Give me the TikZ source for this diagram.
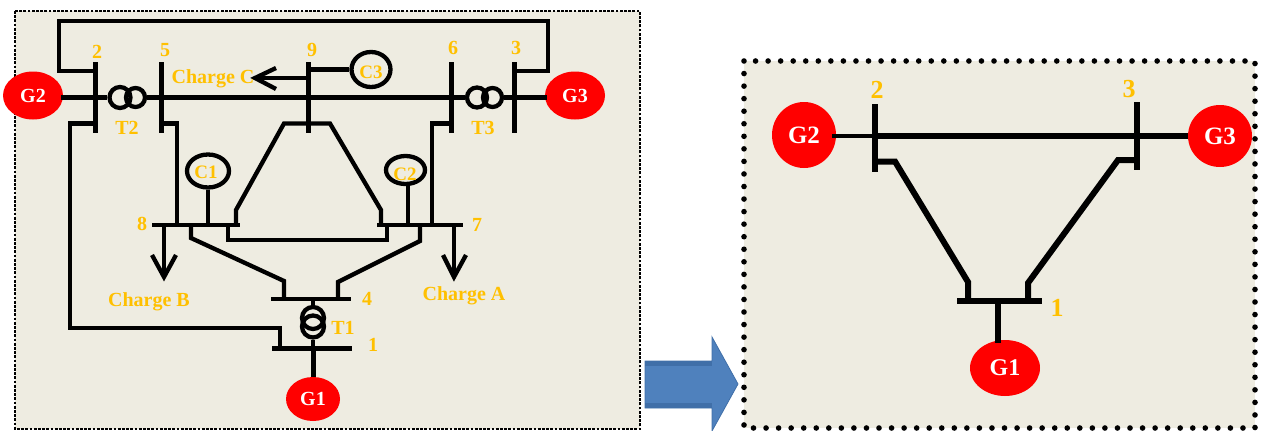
\documentclass[tikz,border=0pt]{standalone}
\usepackage{fontspec}
\setmainfont{Liberation Serif}
\usetikzlibrary{shapes.geometric}
\definecolor{panelbg}{HTML}{EEECE1}
\definecolor{lab}{HTML}{FFC000}
\definecolor{gen}{HTML}{FF0000}
\definecolor{arrowfill}{HTML}{4F81BD}
\definecolor{arrowedge}{HTML}{406FA8}
\newcommand{\fs}[1]{\fontsize{#1}{#1}\selectfont\bfseries}
\tikzset{
  wire/.style={line width=4.3pt,black,line cap=butt,line join=miter},
  wirethick/.style={line width=6pt,black,line cap=butt,line join=miter},
  barb/.style={line width=4.3pt,black,line cap=butt,line join=miter},
  busv/.style={fill=black,draw=none,inner sep=0pt,minimum width=5pt},
  bush/.style={fill=black,draw=none,inner sep=0pt,minimum height=4.5pt},
  genset/.style={ellipse,fill=gen,draw=none,inner sep=0pt,text=white},
  capring/.style={ellipse,draw=black,line width=4.3pt,inner sep=0pt},
  coil/.style={circle,draw=black,line width=4.3pt,inner sep=0pt},
  tag/.style={text=lab,inner sep=0pt},
}
\begin{document}
\begin{tikzpicture}[x=1pt,y=-1pt]
\useasboundingbox (0,0) rectangle (1261,431);
% panels
\fill[panelbg] (15,11) rectangle (640,429);
\draw[black,line width=2.8pt,dash pattern=on 2.8pt off 1.4pt] (15,11) rectangle (640,429);
\fill[panelbg] (744,61) rectangle (1255,428);
\draw[black,line width=5.6pt,line cap=round,dash pattern=on 0pt off 12.55pt] (744,61) rectangle (1255,428);

% block arrow
\draw[arrowedge,line width=0.8pt,fill=arrowfill] (645,361) -- (712,361) -- (712,337) -- (738,384) -- (712,431) -- (712,408) -- (645,408) -- cycle;
\fill[arrowedge] (645,361) rectangle (712,366);
\fill[arrowedge] (645,403) rectangle (712,408);

% LEFT: generators
\node[genset,minimum width=60pt,minimum height=48pt,font=\fs{20}] (G2) at (33,95.5) {G2};
\node[genset,minimum width=60pt,minimum height=48pt,font=\fs{20}] (G3) at (575,95.5) {G3};
\node[genset,minimum width=54pt,minimum height=44pt,font=\fs{20}] (G1) at (313,399) {G1};

% LEFT: buses
\node[busv,minimum height=71pt] (b2) at (95,97.5) {};
\node[busv,minimum height=71pt] (b5) at (161,97.5) {};
\node[busv,minimum height=71pt] (b9) at (308,97.5) {};
\node[busv,minimum height=71pt] (b6) at (451,97.5) {};
\node[busv,minimum height=71pt] (b3) at (514,97.5) {};
\node[bush,minimum width=88pt] (b8) at (196,225) {};
\node[bush,minimum width=86pt] (b7) at (420,225) {};
\node[bush,minimum width=80pt] (b4) at (311,299) {};
\node[bush,minimum width=80pt,minimum height=5pt] (b1) at (312,348) {};

% LEFT: transformers
\node[coil,minimum size=21pt] (T2a) at (120,97.5) {};
\node[coil,minimum size=19pt] (T2b) at (135.5,97.5) {};
\node[coil,minimum size=20pt] (T3a) at (477,97.5) {};
\node[coil,minimum size=19pt] (T3b) at (492.5,97.5) {};
\node[coil,minimum size=22pt] (T1a) at (313,318) {};
\node[coil,minimum size=22pt] (T1b) at (313,326.5) {};

% LEFT: capacitors
\node[capring,minimum width=42pt,minimum height=33pt] (C1) at (208,171) {};
\node[capring,minimum width=39pt,minimum height=28pt] (C2) at (405.5,170) {};
\node[capring,minimum width=39pt,minimum height=35pt] (C3) at (371,69.5) {};

% LEFT: line ends
\coordinate (p2a) at (95,71);
\coordinate (p2b) at (59,71);
\coordinate (p2c) at (59,21);
\coordinate (p3c) at (548,21);
\coordinate (p3b) at (548,71);
\coordinate (p3a) at (514,71);
\coordinate (q2a) at (95,123.5);
\coordinate (q2b) at (70,123.5);
\coordinate (q2c) at (70,328);
\coordinate (q2d) at (280,328);
\coordinate (q2e) at (280,348);
\coordinate (q5a) at (161,123.5);
\coordinate (q5b) at (177,123.5);
\coordinate (q5c) at (177,225);
\coordinate (q6a) at (451,123.5);
\coordinate (q6b) at (432,123.5);
\coordinate (q6c) at (432,225);
\coordinate (q9a) at (236,225);
\coordinate (q9b) at (236,210);
\coordinate (q9c) at (284,123.5);
\coordinate (q9d) at (330,123.5);
\coordinate (q9e) at (381,210);
\coordinate (q9f) at (381,225);
\coordinate (r8a) at (191,225);
\coordinate (r8b) at (191,238);
\coordinate (r8c) at (284,281);
\coordinate (r8d) at (284,299);
\coordinate (r7a) at (420,225);
\coordinate (r7b) at (420,241);
\coordinate (r7c) at (338,282);
\coordinate (r7d) at (338,299);
\coordinate (s8a) at (228,225);
\coordinate (s8b) at (228,240);
\coordinate (s8c) at (387,240);
\coordinate (s8d) at (387,225);
\coordinate (c1b) at (208,225);
\coordinate (c2b) at (408,225);
\coordinate (c3b) at (308,69.5);
\coordinate (t1t) at (313,299);
\coordinate (t1m) at (313,348);
\coordinate (ca0) at (308,78);
\coordinate (ca1) at (255,78);
\coordinate (ca2) at (276,68);
\coordinate (ca3) at (276,89);
\coordinate (ba0) at (164,225);
\coordinate (ba1) at (164,277);
\coordinate (ba2) at (152,255);
\coordinate (ba3) at (176,255);
\coordinate (aa0) at (454,225);
\coordinate (aa1) at (454,277);
\coordinate (aa2) at (443,255);
\coordinate (aa3) at (466,255);
\coordinate (g2e) at (61,97.5);
\coordinate (g3w) at (547,97.5);

% LEFT: wires
\draw[wire] (p2a) -- (p2b) -- (p2c) -- (p3c) -- (p3b) -- (p3a);
\draw[wire] (g2e) -- (T2a);
\draw[wire] (T2b) -- (T3a);
\draw[wire] (T3b) -- (g3w);
\draw[wire] (q2a) -- (q2b) -- (q2c) -- (q2d) -- (q2e);
\draw[wire] (q5a) -- (q5b) -- (q5c);
\draw[wire] (q6a) -- (q6b) -- (q6c);
\draw[wire] (q9a) -- (q9b) -- (q9c) -- (q9d) -- (q9e) -- (q9f);
\draw[wire] (r8a) -- (r8b) -- (r8c) -- (r8d);
\draw[wire] (r7a) -- (r7b) -- (r7c) -- (r7d);
\draw[wire] (s8a) -- (s8b) -- (s8c) -- (s8d);
\draw[wire] (C1) -- (c1b);
\draw[wire] (C2.south -| c2b) -- (c2b);
\draw[wire] (C3) -- (c3b);
\draw[wire] (t1t) -- (T1a);
\draw[wire] (T1b) -- (t1m);
\draw[wire,line width=5pt] (t1m) -- (G1);
\draw[wire] (ca0) -- (ca1);
\draw[barb] (ca2) -- (ca1) -- (ca3);
\draw[wire] (ba0) -- (ba1);
\draw[barb] (ba2) -- (ba1) -- (ba3);
\draw[wire] (aa0) -- (aa1);
\draw[barb] (aa2) -- (aa1) -- (aa3);

% LEFT: labels
\node[tag,font=\fs{20}] (l2) at (97,52) {2};
\node[tag,font=\fs{20}] (l5) at (165,50) {5};
\node[tag,font=\fs{20}] (l9) at (312,50) {9};
\node[tag,font=\fs{20}] (l6) at (453,48) {6};
\node[tag,font=\fs{20}] (l3) at (516,48) {3};
\node[tag,font=\fs{20}] (l8) at (142,224) {8};
\node[tag,font=\fs{20}] (l7) at (477,225) {7};
\node[tag,font=\fs{20}] (l4) at (367,299) {4};
\node[tag,font=\fs{20}] (l1) at (373,345) {1};
\node[tag,font=\fs{20}] (lT2) at (127,128) {T2};
\node[tag,font=\fs{20}] (lT3) at (483,128) {T3};
\node[tag,font=\fs{20}] (lT1) at (343,328) {T1};
\node[tag,font=\fs{19}] (lC1) at (206,172) {C1};
\node[tag,font=\fs{19}] (lC2) at (405,174) {C2};
\node[tag,font=\fs{19}] (lC3) at (371,72) {C3};
\node[tag,font=\fs{20}] (lcc) at (213,79) {Charge C};
\node[tag,font=\fs{20}] (lcb) at (149,302) {Charge B};
\node[tag,font=\fs{20}] (lca) at (464,296) {Charge A};

% RIGHT: generators
\node[genset,minimum width=64pt,minimum height=66pt,font=\fs{25}] (RG2) at (804,135) {G2};
\node[genset,minimum width=64pt,minimum height=62pt,font=\fs{25}] (RG3) at (1220,136) {G3};
\node[genset,minimum width=70pt,minimum height=56pt,font=\fs{24}] (RG1) at (1005,368) {G1};

% RIGHT: buses
\node[busv,minimum width=6pt,minimum height=68pt] (Rb2) at (875,138) {};
\node[busv,minimum width=6pt,minimum height=68pt] (Rb3) at (1137,136) {};
\node[bush,minimum width=85pt,minimum height=6pt] (Rb1) at (999.5,301) {};

% RIGHT: line ends
\coordinate (Rm2) at (875,136);
\coordinate (Rm3) at (1137,136);
\coordinate (Rg2) at (832,136);
\coordinate (Rs2a) at (875,161.5);
\coordinate (Rs2b) at (895,161.5);
\coordinate (Rs2c) at (968,282);
\coordinate (Rs2d) at (968,301);
\coordinate (Rs3a) at (1137,160);
\coordinate (Rs3b) at (1118,160);
\coordinate (Rs3c) at (1028,283);
\coordinate (Rs3d) at (1028,301);
\coordinate (Rg1) at (998,301);
\coordinate (Rg1e) at (998,343);

% RIGHT: wires
\draw[wire] (Rg2) -- (Rm2);
\draw[wirethick] (Rm2) -- (Rm3);
\draw[wirethick] (Rm3) -- (RG3.west);
\draw[wirethick] (Rs2a) -- (Rs2b) -- (Rs2c) -- (Rs2d);
\draw[wirethick] (Rs3a) -- (Rs3b) -- (Rs3c) -- (Rs3d);
\draw[wirethick] (Rg1) -- (Rg1e);

% RIGHT: labels
\node[tag,font=\fs{26}] (Rl2) at (877,90) {2};
\node[tag,font=\fs{26}] (Rl3) at (1129,89) {3};
\node[tag,font=\fs{26}] (Rl1) at (1057,308) {1};
\end{tikzpicture}
\end{document}
